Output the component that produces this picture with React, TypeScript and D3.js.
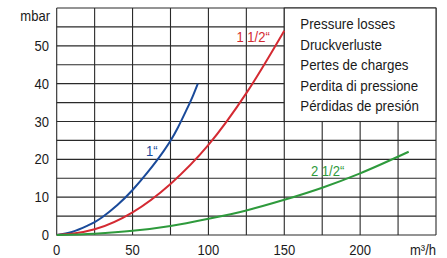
import React from 'react';
import * as d3 from 'd3';

// x ticks (m³/h) and y ticks (mbar)
const xTicks = [0, 50, 100, 150, 200];
const yTicks = [0, 10, 20, 30, 40, 50];
const xGrid = [0, 25, 50, 75, 100, 125, 150, 175, 200, 225, 250];
const yGrid = [0, 5, 10, 15, 20, 25, 30, 35, 40, 45, 50, 55, 60];

// pressure-loss curves
const flow1 = [0, 10, 20, 25, 30, 40, 50, 60, 70, 75, 80, 85, 90, 93];
const loss1 = [0, 0.8, 2.4, 3.4, 4.7, 7.9, 11.9, 16.6, 21.9, 24.9, 28.5, 32.6, 37.0, 40];
const flow15 = [0, 10, 25, 50, 75, 100, 125, 150];
const loss15 = [0, 0.3, 1.5, 6.0, 13.5, 23.8, 37.5, 54];
const flow25 = [0, 25, 50, 75, 100, 125, 150, 175, 200, 232];
const loss25 = [0, 0.35, 1.1, 2.4, 4.3, 6.5, 9.3, 12.5, 16.3, 22];

const legendLines = [
  'Pressure losses',
  'Druckverluste',
  'Pertes de charges',
  'Perdita di pressione',
  'Pérdidas de presión',
];

const W = 447;
const H = 258;
const margin = { top: 8, right: 11, bottom: 23, left: 56.7 };
const font = '"Liberation Sans", Arial, sans-serif';

const T: React.FC<{ x: number; y: number; size?: number; sx?: number; anchor?: string; fill?: string; children: React.ReactNode }> = ({
  x, y, size = 14.5, sx = 0.9, anchor = 'start', fill = '#1a1a1a', children,
}) => (
  <text
    transform={`translate(${x},${y}) scale(${sx},1)`}
    fontSize={size}
    fontFamily={font}
    textAnchor={anchor}
    fill={fill}
  >
    {children}
  </text>
);

export default function App() {
  const x = d3.scaleLinear().domain([0, 250]).range([margin.left, W - margin.right]);
  const y = d3.scaleLinear().domain([0, 60]).range([H - margin.bottom, margin.top]);

  const line = d3
    .line<[number, number]>()
    .x((d) => x(d[0]))
    .y((d) => y(d[1]))
    .curve(d3.curveMonotoneX);

  const zip = (a: number[], b: number[]) => a.map((v, i) => [v, b[i]] as [number, number]);

  const series = [
    { data: zip(flow1, loss1), color: '#1a4a9a' },
    { data: zip(flow15, loss15), color: '#d42a32' },
    { data: zip(flow25, loss25), color: '#2e9a3c' },
  ];

  const gridColor = '#2a2a2a';

  return (
    <svg width={W} height={H} style={{ position: 'absolute', left: 0, top: 0, background: '#fff' }}>
      {/* grid */}
      {xGrid.map((v) => (
        <line key={'gx' + v} x1={x(v)} x2={x(v)} y1={y(0)} y2={y(60)} stroke={gridColor} strokeWidth={1.1} />
      ))}
      {yGrid.map((v) => (
        <line key={'gy' + v} x1={x(0)} x2={x(250)} y1={y(v)} y2={y(v)} stroke={gridColor} strokeWidth={1.1} />
      ))}

      {/* legend box covers the top right cells */}
      <rect x={x(150)} y={y(60)} width={x(250) - x(150)} height={y(30) - y(60)} fill="#fff" stroke={gridColor} strokeWidth={1.1} />
      {legendLines.map((t, i) => (
        <T key={t} x={x(150) + 16} y={29 + i * 20.5} size={15} sx={0.89}>
          {t}
        </T>
      ))}

      {/* curves */}
      {series.map((s, i) => (
        <path key={i} d={line(s.data) || ''} fill="none" stroke={s.color} strokeWidth={2} />
      ))}

      {/* curve labels */}
      <T x={146} y={156} fill="#1a4a9a">1“</T>
      <T x={236.5} y={42} fill="#d42a32">1 1/2“</T>
      <T x={311} y={175.5} fill="#2e9a3c">2 1/2“</T>

      {/* y tick labels */}
      {yTicks.map((v) => (
        <T key={'yt' + v} x={49} y={y(v) + 5} anchor="end">
          {v}
        </T>
      ))}
      <T x={50} y={21} anchor="end">mbar</T>

      {/* x tick labels */}
      {xTicks.map((v) => (
        <T key={'xt' + v} x={x(v)} y={255} anchor="middle">
          {v}
        </T>
      ))}
      <T x={x(250)} y={255} anchor="end">m³/h</T>
    </svg>
  );
}
